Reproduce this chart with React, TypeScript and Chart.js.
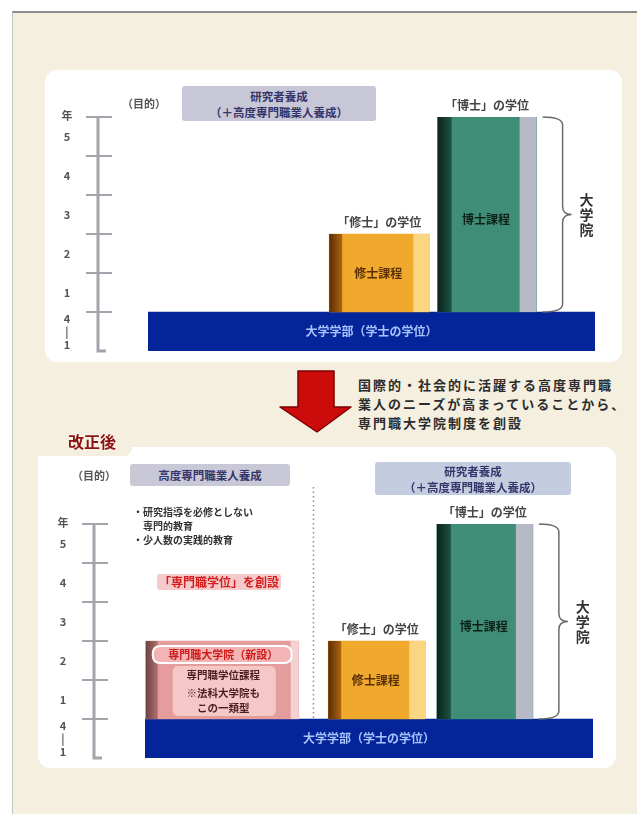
import React, { useEffect, useRef } from 'react';
import { Chart, registerables } from 'chart.js';

Chart.register(...registerables);

// ---------------- data ----------------
const programLabels = ['専門職学位課程', '修士課程', '博士課程'];
const programBarTexts = ['', '修士課程', '博士課程'];
const degreeLabels = ['', '「修士」の学位', '「博士」の学位'];
const graduateYearsBefore: (number | null)[] = [null, 2, 5];
const graduateYearsAfter: (number | null)[] = [2, 2, 5];
const undergradCategory = '大学学部';
const undergradSpan: [number, number] = [-1, 0];
const undergradText = '大学学部（学士の学位）';
const yearTickValues = [0, 1, 2, 3, 4, 5];
const yearTickLabels = ['1', '2', '3', '4', '5'];
const undergradTickLabels = ['4', '|', '1'];
const yearUnitLabel = '年';
const graduateSchoolLabel = '大学院';
const newSchoolTitle = '専門職大学院（新設）';
const newSchoolLines = ['専門職学位課程', '※法科大学院も', 'この一類型'];
const purposeLabel = '（目的）';
const researchPurpose = ['研究者養成', '（＋高度専門職業人養成）'];
const professionalPurpose = '高度専門職業人養成';
const professionalFeatures = ['・研究指導を必修としない', '　専門的教育', '・少人数の実践的教育'];
const newDegreeText = '「専門職学位」を創設';
const reasonLines = [
  '国際的・社会的に活躍する高度専門職',
  '業人のニーズが高まっていることから、',
  '専門職大学院制度を創設',
];
const afterReformLabel = '改正後';

// ---------------- layout / style ----------------
const JP = '"Noto Sans CJK JP", "Noto Sans", sans-serif';
const SLOT_COUNT = 30;
const programSlots = [5, 15, 22];
const slotLabels = Array.from({ length: SLOT_COUNT }, (_, i) => {
  const p = programSlots.indexOf(i);
  return p >= 0 ? programLabels[p] : `·${i}`;
});

const programStyles = [
  { body: '#e49c9c', dark: ['#6c4242', '#b27070'], darkW: 12, light: '#f5d2d2', lightW: 8, text: '#4a1e1e' },
  { body: '#f0a92c', dark: ['#5a2c06', '#b0650e'], darkW: 13, light: '#f9d67f', lightW: 16, text: '#5a3004' },
  { body: '#3f8d77', dark: ['#0b241d', '#1f5244'], darkW: 14, light: '#b6bac6', lightW: 17, text: '#0c2219' },
];
const undergradColor = '#04259a';

function roundRect(ctx: CanvasRenderingContext2D, x: number, y: number, w: number, h: number, r: number) {
  ctx.beginPath();
  ctx.moveTo(x + r, y);
  ctx.lineTo(x + w - r, y);
  ctx.quadraticCurveTo(x + w, y, x + w, y + r);
  ctx.lineTo(x + w, y + h - r);
  ctx.quadraticCurveTo(x + w, y + h, x + w - r, y + h);
  ctx.lineTo(x + r, y + h);
  ctx.quadraticCurveTo(x, y + h, x, y + h - r);
  ctx.lineTo(x, y + r);
  ctx.quadraticCurveTo(x, y, x + r, y);
  ctx.closePath();
}

function drawBrace(ctx: CanvasRenderingContext2D, x0: number, top: number, bottom: number) {
  const xv = x0 + 20;
  const tip = x0 + 29;
  const mid = (top + bottom) / 2;
  const r = 8;
  ctx.beginPath();
  ctx.moveTo(x0, top);
  ctx.quadraticCurveTo(xv, top, xv, top + r);
  ctx.lineTo(xv, mid - r);
  ctx.quadraticCurveTo(xv, mid, tip, mid);
  ctx.quadraticCurveTo(xv, mid, xv, mid + r);
  ctx.lineTo(xv, bottom - r);
  ctx.quadraticCurveTo(xv, bottom, x0, bottom);
  ctx.stroke();
}

type PanelOpts = {
  padding: { left: number; right: number; top: number; bottom: number };
  axisGap: number;
  divider: boolean;
};

function decorPlugin(panel: PanelOpts) {
  return {
    id: 'decor',
    beforeDatasetsDraw(chart: any) {
      const ctx: CanvasRenderingContext2D = chart.ctx;
      const ys = chart.scales.y;
      const area = chart.chartArea;
      const ax = area.left - panel.axisGap;
      const yTop = ys.getPixelForValue(yearTickValues[yearTickValues.length - 1]);
      const yBot = ys.getPixelForValue(undergradSpan[0]);
      ctx.save();
      ctx.strokeStyle = '#a4a4ac';
      ctx.lineWidth = 3;
      ctx.beginPath();
      ctx.moveTo(ax, yTop);
      ctx.lineTo(ax, yBot);
      ctx.lineTo(ax + 8, yBot);
      ctx.stroke();
      ctx.lineWidth = 2;
      yearTickValues.forEach((v) => {
        const py = ys.getPixelForValue(v);
        ctx.beginPath();
        ctx.moveTo(ax - 12, py);
        ctx.lineTo(ax + 14, py);
        ctx.stroke();
      });
      ctx.fillStyle = '#555';
      ctx.font = `bold 11px ${JP}`;
      ctx.textAlign = 'center';
      ctx.textBaseline = 'middle';
      ctx.fillText(yearUnitLabel, ax - 31, yTop - 1);
      yearTickLabels.forEach((t, i) => {
        ctx.fillText(t, ax - 31, ys.getPixelForValue(yearTickValues[i] + 0.5));
      });
      const span = undergradSpan[1] - undergradSpan[0];
      undergradTickLabels.forEach((t, i) => {
        const v = undergradSpan[1] - ((i + 0.5) / undergradTickLabels.length) * span;
        ctx.fillText(t, ax - 31, ys.getPixelForValue(v));
      });

      if (panel.divider) {
        const metas = chart.data.datasets.map((d: any, i: number) => ({ d, el: chart.getDatasetMeta(i).data[0] }));
        const pink = metas.find((m: any) => m.d.programIndex === 0);
        const orange = metas.find((m: any) => m.d.programIndex === 1);
        if (pink && orange) {
          const dx = (pink.el.x + pink.el.width / 2 + orange.el.x - orange.el.width / 2) / 2;
          ctx.strokeStyle = '#7f8fb4';
          ctx.lineWidth = 1.5;
          ctx.setLineDash([1.5, 3]);
          ctx.beginPath();
          ctx.moveTo(dx, area.top - 37);
          ctx.lineTo(dx, ys.getPixelForValue(0));
          ctx.stroke();
          ctx.setLineDash([]);
        }
      }
      ctx.restore();
    },
    afterDatasetsDraw(chart: any) {
      const ctx: CanvasRenderingContext2D = chart.ctx;
      ctx.save();
      ctx.textAlign = 'center';
      ctx.textBaseline = 'middle';
      chart.data.datasets.forEach((ds: any, di: number) => {
        const el = chart.getDatasetMeta(di).data[0];
        if (!el) return;
        const left = el.x - el.width / 2;
        const right = el.x + el.width / 2;
        const top = el.y;
        const bottom = el.base;
        if (ds.programIndex === undefined) {
          ctx.fillStyle = '#a8c4ff';
          ctx.font = `bold 12px ${JP}`;
          ctx.fillText(undergradText, el.x, (top + bottom) / 2);
          return;
        }
        const pi = ds.programIndex;
        const st = programStyles[pi];
        const g = ctx.createLinearGradient(left, 0, left + st.darkW, 0);
        g.addColorStop(0, st.dark[0]);
        g.addColorStop(1, st.dark[1]);
        ctx.fillStyle = g;
        ctx.fillRect(left, top, st.darkW, bottom - top);
        ctx.fillStyle = st.light;
        ctx.fillRect(right - st.lightW, top, st.lightW, bottom - top);

        if (degreeLabels[pi]) {
          ctx.fillStyle = '#444';
          ctx.font = `bold 12px ${JP}`;
          ctx.fillText(degreeLabels[pi], el.x, top - 12);
        }
        if (programBarTexts[pi]) {
          ctx.fillStyle = st.text;
          ctx.font = `bold 12px ${JP}`;
          const ty = pi === 2 ? (top + bottom) / 2 + 5 : (top + bottom) / 2;
          ctx.fillText(programBarTexts[pi], el.x - 1, ty);
        }
        if (pi === 2) {
          ctx.strokeStyle = '#6a6a6a';
          ctx.lineWidth = 1.5;
          drawBrace(ctx, right + 6, top, bottom);
          ctx.fillStyle = '#333';
          ctx.font = `bold 14px ${JP}`;
          const mid = (top + bottom) / 2;
          graduateSchoolLabel.split('').forEach((c, k) => {
            ctx.fillText(c, right + 50, mid + (k - 1) * 15);
          });
        }
        if (pi === 0) {
          roundRect(ctx, left + 7, top + 5, el.width - 14, 17, 8);
          ctx.fillStyle = '#f2b4b4';
          ctx.fill();
          ctx.strokeStyle = '#ffffff';
          ctx.lineWidth = 2;
          ctx.stroke();
          ctx.fillStyle = '#d11a1a';
          ctx.font = `bold 11px ${JP}`;
          ctx.fillText(newSchoolTitle, el.x + 1, top + 13.5);
          roundRect(ctx, left + 27, top + 25, el.width - 50, bottom - top - 28, 6);
          ctx.fillStyle = '#f5c8c8';
          ctx.fill();
          ctx.fillStyle = st.text;
          ctx.font = `bold 10.5px ${JP}`;
          const offs = [34, 52, 67];
          newSchoolLines.forEach((line, k) => ctx.fillText(line, el.x + 1, top + offs[k]));
        }
      });
      ctx.restore();
    },
  };
}

function buildConfig(years: (number | null)[], thickness: number[], panel: PanelOpts): any {
  const datasets: any[] = [];
  programLabels.forEach((name, i) => {
    const v = years[i];
    if (v === null) return;
    datasets.push({
      label: name,
      programIndex: i,
      data: [{ x: name, y: [0, v] }],
      backgroundColor: programStyles[i].body,
      borderWidth: 0,
      barThickness: thickness[i],
      grouped: false,
      xAxisID: 'x',
      yAxisID: 'y',
    });
  });
  datasets.push({
    label: undergradCategory,
    data: [{ x: undergradCategory, y: undergradSpan }],
    backgroundColor: undergradColor,
    borderWidth: 0,
    barPercentage: 1,
    categoryPercentage: 1,
    grouped: false,
    xAxisID: 'xu',
    yAxisID: 'y',
  });
  return {
    type: 'bar',
    data: { labels: slotLabels, datasets },
    options: {
      animation: false,
      responsive: false,
      maintainAspectRatio: false,
      layout: { padding: panel.padding },
      plugins: { legend: { display: false }, tooltip: { enabled: false } },
      scales: {
        x: { type: 'category', labels: slotLabels, offset: false, display: false },
        xu: { type: 'category', axis: 'x', position: 'bottom', labels: [undergradCategory], offset: true, display: false },
        y: {
          type: 'linear',
          min: undergradSpan[0],
          max: yearTickValues[yearTickValues.length - 1],
          display: false,
        },
      },
    },
    plugins: [decorPlugin(panel)],
  };
}

function BarPanel(props: { years: (number | null)[]; thickness: number[]; width: number; height: number; panel: PanelOpts }) {
  const ref = useRef<HTMLCanvasElement | null>(null);
  useEffect(() => {
    if (!ref.current) return;
    const chart = new Chart(ref.current, buildConfig(props.years, props.thickness, props.panel));
    return () => chart.destroy();
  }, []);
  return (
    <canvas
      ref={ref}
      width={props.width}
      height={props.height}
      style={{ position: 'absolute', left: 0, top: 0, width: props.width, height: props.height }}
    />
  );
}

const T = (p: { x: number; y: number; s?: any; children: any }) => (
  <div
    style={{
      position: 'absolute',
      left: p.x,
      top: p.y,
      transform: 'translateY(-50%)',
      whiteSpace: 'nowrap',
      lineHeight: 1,
      ...(p.s || {}),
    }}
  >
    {p.children}
  </div>
);

const boxStyle = (x: number, y: number, w: number, h: number, bg: string): any => ({
  position: 'absolute',
  left: x,
  top: y,
  width: w,
  height: h,
  background: bg,
  borderRadius: 3,
  display: 'flex',
  flexDirection: 'column',
  alignItems: 'center',
  justifyContent: 'center',
  color: '#35356a',
  fontWeight: 'bold',
  fontSize: 11.5,
  lineHeight: '16px',
  whiteSpace: 'nowrap',
});

export default function App() {
  return (
    <div
      style={{
        position: 'absolute',
        left: 0,
        top: 0,
        width: 637,
        height: 814,
        background: '#ffffff',
        overflow: 'hidden',
        fontFamily: JP,
      }}
    >
      <div
        style={{
          position: 'absolute',
          left: 12,
          top: 11,
          right: 0,
          bottom: 0,
          background: '#f4efdf',
          borderTop: '2px solid #8c8c8c',
          borderLeft: '1px solid #c4c4c4',
        }}
      />

      {/* before reform */}
      <div style={{ position: 'absolute', left: 45, top: 70, width: 577, height: 292, background: '#fff', borderRadius: 12 }}>
        <BarPanel
          years={graduateYearsBefore}
          thickness={[153, 100, 99]}
          width={577}
          height={292}
          panel={{ padding: { left: 103, right: 27, top: 47, bottom: 11 }, axisGap: 50, divider: false }}
        />
      </div>
      <T x={122} y={103} s={{ fontSize: 11, fontWeight: 'bold', color: '#555' }}>{purposeLabel}</T>
      <div style={boxStyle(182, 86, 194, 35, '#c7c7d8')}>
        <div>{researchPurpose[0]}</div>
        <div>{researchPurpose[1]}</div>
      </div>

      {/* arrow and reason */}
      <svg style={{ position: 'absolute', left: 278, top: 369 }} width={76} height={66}>
        <polygon
          points="20,2 56,2 56,38 73,38 39,63 2,38 20,38"
          fill="#cc0b0b"
          stroke="#7e0000"
          strokeWidth={1.5}
          strokeLinejoin="round"
        />
      </svg>
      {reasonLines.map((line, i) => (
        <T key={i} x={358} y={384 + i * 19} s={{ fontSize: 13, fontWeight: 'bold', color: '#2c2c2c', letterSpacing: 2 }}>
          {line}
        </T>
      ))}

      {/* after reform */}
      <div style={{ position: 'absolute', left: 38, top: 447, width: 578, height: 321, background: '#fff', borderRadius: 12 }}>
        <BarPanel
          years={graduateYearsAfter}
          thickness={[153, 97, 96]}
          width={578}
          height={321}
          panel={{ padding: { left: 107, right: 23, top: 77, bottom: 10 }, axisGap: 51, divider: true }}
        />
      </div>
      <div
        style={{
          position: 'absolute',
          left: 38,
          top: 446,
          width: 94,
          height: 10,
          background: '#f4efdf',
          borderBottomRightRadius: 8,
        }}
      />
      <T x={68} y={441} s={{ fontSize: 16, fontWeight: 'bold', color: '#8b1212', textShadow: '0 0 2px #fff' }}>
        {afterReformLabel}
      </T>
      <T x={72} y={475} s={{ fontSize: 11, fontWeight: 'bold', color: '#555' }}>{purposeLabel}</T>
      <div style={boxStyle(130, 464, 160, 22, '#c8c8d6')}>
        <div>{professionalPurpose}</div>
      </div>
      <div style={boxStyle(375, 462, 196, 33, '#c4cce0')}>
        <div>{researchPurpose[0]}</div>
        <div>{researchPurpose[1]}</div>
      </div>
      {professionalFeatures.map((line, i) => (
        <T key={i} x={133} y={512 + i * 14} s={{ fontSize: 10, fontWeight: 'bold', color: '#333' }}>
          {line}
        </T>
      ))}
      <T
        x={157}
        y={582}
        s={{ fontSize: 12, fontWeight: 'bold', color: '#d41c1c', background: '#f4caca', padding: '2px 2px', borderRadius: 3 }}
      >
        {newDegreeText}
      </T>
    </div>
  );
}
